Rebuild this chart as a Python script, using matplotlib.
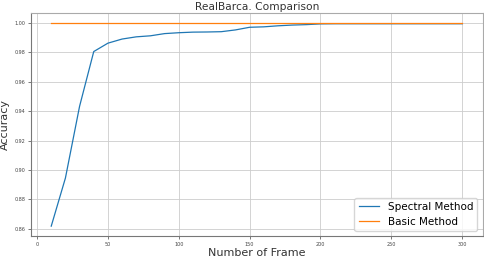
import matplotlib
matplotlib.use("Agg")
import matplotlib.pyplot as plt
import numpy as np

# frames used and accuracy of each method
frames = [10, 20, 30, 40, 50, 60, 70, 80, 90, 100, 110, 120, 130, 140, 150,
          160, 170, 180, 190, 200, 210, 220, 230, 240, 250, 260, 270, 280, 290, 300]
spectral = [0.8618, 0.8945, 0.9433, 0.9805, 0.9862, 0.9890, 0.9905, 0.9912, 0.9927, 0.9933,
            0.9937, 0.9938, 0.9940, 0.9952, 0.9970, 0.9973, 0.9980, 0.9985, 0.9988, 0.9993,
            0.9994, 0.9994, 0.9994, 0.9994, 0.9994, 0.9994, 0.9994, 0.9994, 0.9994, 0.9994]
basic = [1.0] * len(frames)

fig = plt.figure(figsize=(4.84, 2.57), dpi=100)
ax = fig.add_axes([30.7 / 484, 1 - 236.3 / 257, 452 / 484, 223.6 / 257])

ax.plot(frames, spectral, color="#1f77b4", lw=0.9, label="Spectral Method")
ax.plot(frames, basic, color="#ff7f0e", lw=0.9, label="Basic Method")

ax.set_yticks(np.arange(0.86, 1.001, 0.02))
ax.set_xticks([0, 50, 100, 150, 200, 250, 300])
ax.tick_params(labelsize=3.5, length=2, width=0.5, colors="#444444", pad=2)
ax.grid(True, color="#cccccc", lw=0.6)
for side in ["left", "bottom"]:
    ax.spines[side].set_color("#777777")
for side in ["top", "right"]:
    ax.spines[side].set_color("#aaaaaa")

ax.set_title("RealBarca. Comparison", fontsize=7.7, color="#333333", pad=2)
ax.set_xlabel("Number of Frame", fontsize=8, color="#333333", labelpad=1)
ax.set_ylabel("Accuracy", fontsize=8, color="#333333", labelpad=3)
ax.legend(loc="lower right", fontsize=7.5, framealpha=0.8)

fig.savefig("out.png", dpi=100)
